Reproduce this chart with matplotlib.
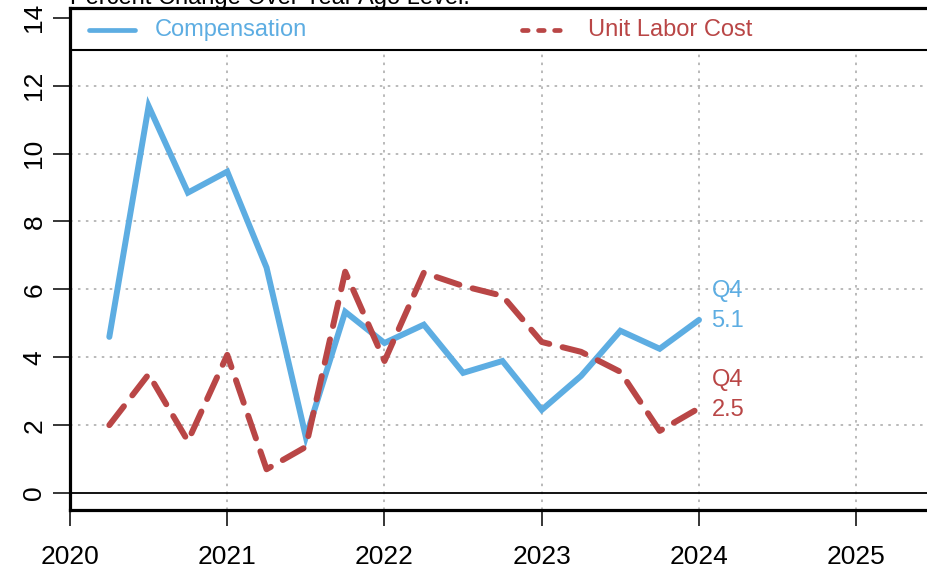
"""
Compensation vs unit labor cost, percent change over year ago.
"""

import numpy as np
import matplotlib.pyplot as plt
from matplotlib.lines import Line2D

plt.rcParams['font.family'] = ['Liberation Sans', 'DejaVu Sans']

# quarterly observations, plotted at quarter end (Q1 2020 .. Q4 2023)
quarters = np.arange(2020.25, 2024.01, 0.25)
compensation = [4.6, 11.4, 8.85, 9.47, 6.64, 1.65, 5.34, 4.42,
                4.96, 3.54, 3.89, 2.45, 3.45, 4.78, 4.25, 5.1]
unit_labor_cost = [2.0, 3.5, 1.53, 4.07, 0.7, 1.36, 6.52, 3.89,
                   6.49, 6.1, 5.81, 4.45, 4.16, 3.57, 1.83, 2.5]

series_names = ['Compensation', 'Unit Labor Cost']
last_quarter = 'Q4'
x_ticks = [2020, 2021, 2022, 2023, 2024, 2025]
y_ticks = [0, 2, 4, 6, 8, 10, 12, 14]
title = 'Percent Change Over Year Ago Level.'

BLUE = '#5DADE2'
RED = '#B94646'
GRID = '#B4B4B4'
FS = 17
TICK_FS = 19


def main():
    fig = plt.figure(figsize=(9.27, 5.72), dpi=100)
    ax = fig.add_axes([70 / 927, 62 / 572, 1 - 70 / 927, (510 - 8) / 572])

    ax.set_xlim(2020, 2020 + (927 - 70) / 157.25)
    ax.set_ylim(-0.5, 14.29)
    legend_floor = 13.06
    legend_y = 0.957

    # grid, kept below the legend strip
    for x in x_ticks[1:]:
        ax.plot([x, x], [-0.5, legend_floor], color=GRID, lw=1.3,
                ls=(0, (1.4, 3)), zorder=1)
    for y in y_ticks[1:-1]:
        ax.axhline(y, color=GRID, lw=1.3, ls=(0, (1.4, 3)), zorder=1)
    ax.axhline(0, color='black', lw=1.3, zorder=2)
    ax.axhline(legend_floor, color='black', lw=1.5, zorder=2)

    ax.plot(quarters, compensation, color=BLUE, lw=4.3,
            solid_joinstyle='miter', solid_capstyle='round', zorder=3)
    ax.plot(quarters, unit_labor_cost, color=RED, lw=4.3,
            dashes=(4, 2.3), dash_capstyle='round', zorder=3)

    # end labels
    for vals, col in [(compensation, BLUE), (unit_labor_cost, RED)]:
        ax.annotate(f'{vals[-1]:.1f}', (quarters[-1], vals[-1]),
                    xytext=(9, -1), textcoords='offset points',
                    color=col, fontsize=FS, va='center', ha='left')
        ax.annotate(last_quarter, (quarters[-1], vals[-1]),
                    xytext=(9, 20.6), textcoords='offset points',
                    color=col, fontsize=FS, va='center', ha='left')

    # legend strip
    ax.add_line(Line2D([0.022, 0.076], [legend_y, legend_y],
                       transform=ax.transAxes, color=BLUE, lw=3.4,
                       solid_capstyle='round'))
    ax.text(0.099, legend_y, series_names[0], transform=ax.transAxes,
            color=BLUE, fontsize=FS, va='center')
    ax.add_line(Line2D([0.528, 0.583], [legend_y, legend_y],
                       transform=ax.transAxes, color=RED, lw=3.4,
                       dashes=(1.2, 2.2), dash_capstyle='round'))
    ax.text(0.604, legend_y, series_names[1], transform=ax.transAxes,
            color=RED, fontsize=FS, va='center')

    for side in ['left', 'bottom', 'top']:
        ax.spines[side].set_linewidth(2.3)
    ax.spines['right'].set_visible(False)

    ax.set_xticks(x_ticks)
    ax.set_yticks(y_ticks)
    ax.tick_params(axis='x', length=11.5, width=1.1, pad=14,
                   labelsize=TICK_FS)
    ax.tick_params(axis='y', length=12, width=1.1, pad=5, labelsize=TICK_FS,
                   labelrotation=90)
    for lab in ax.get_yticklabels():
        lab.set_va('center')

    fig.text(70 / 927, 1 - 4 / 572, title, fontsize=FS, va='baseline',
             ha='left')

    fig.savefig('out.png', dpi=100)


if __name__ == '__main__':
    main()
